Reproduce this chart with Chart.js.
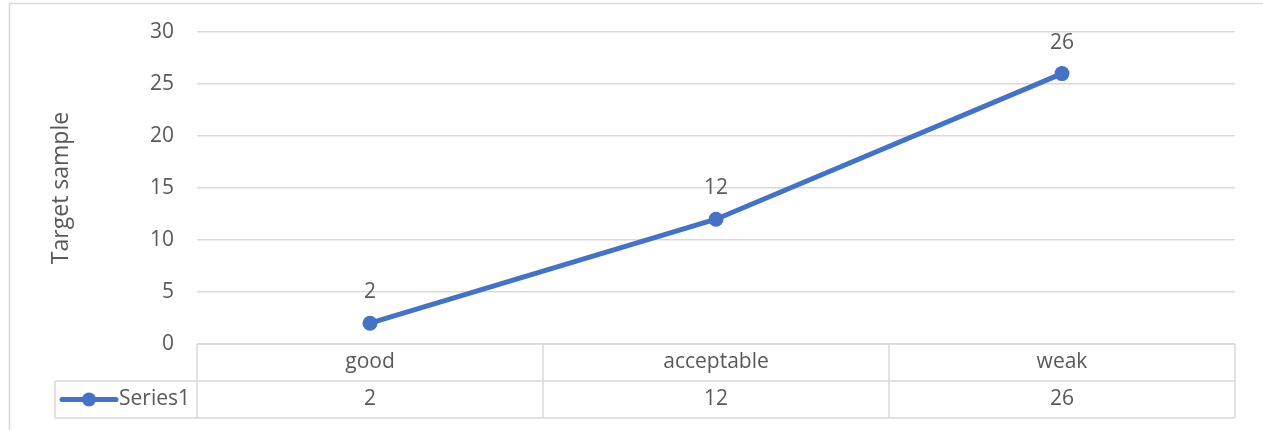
<!DOCTYPE html>
<html>
<head>
<meta charset="utf-8">
<script src="https://cdn.jsdelivr.net/npm/chart.js@4.4.0/dist/chart.umd.min.js"></script>
<style>
  html,body{margin:0;padding:0;background:#fff;}
  #wrap{width:1263px;height:430px;position:relative;}
</style>
</head>
<body>
<div id="wrap"><canvas id="chart" width="1263" height="430"></canvas></div>
<script>
// data
const categories = ['good', 'acceptable', 'weak'];
const seriesName = 'Series1';
const seriesValues = [2, 12, 26];
const yMin = 0;
const yMax = 30;
const yStep = 5;
const yTitle = 'Target sample';

const FONT = '"Open Sans", "Liberation Sans", sans-serif';
const FONT_SIZE = 21;
const TEXT = '#595959';
const GRID = '#d9d9d9';
const BLUE = '#4472C4';

// chart border (the Excel chart-area frame, cropped at right/bottom)
const frame = {
  id: 'frame',
  beforeDraw(chart){
    const ctx = chart.ctx;
    ctx.save();
    ctx.strokeStyle = GRID;
    ctx.lineWidth = 1.5;
    ctx.strokeRect(9.5, 3.5, 1400, 600);
    ctx.restore();
  }
};

// value labels above each point
const pointLabels = {
  id: 'pointLabels',
  afterDatasetsDraw(chart){
    const ctx = chart.ctx;
    const meta = chart.getDatasetMeta(0);
    ctx.save();
    ctx.font = FONT_SIZE + 'px ' + FONT;
    ctx.fillStyle = TEXT;
    ctx.textAlign = 'center';
    ctx.textBaseline = 'middle';
    meta.data.forEach((pt, i)=>{
      ctx.fillText(String(seriesValues[i]), pt.x, pt.y - 31);
    });
    ctx.restore();
  }
};

// data table under the plot (categories row + series row with legend key)
const dataTable = {
  id: 'dataTable',
  afterDraw(chart){
    const ctx = chart.ctx;
    const ca = chart.chartArea;
    const xs = chart.scales.x;
    const rowH = 37;
    const y0 = ca.bottom, y1 = y0 + rowH, y2 = y1 + rowH;
    const keyLeft = 55;
    const n = categories.length;
    const step = (ca.right - ca.left) / n;

    ctx.save();
    ctx.strokeStyle = GRID;
    ctx.lineWidth = 1.5;
    ctx.beginPath();
    // horizontal lines
    ctx.moveTo(ca.left, y0); ctx.lineTo(ca.right, y0);
    ctx.moveTo(keyLeft, y1); ctx.lineTo(ca.right, y1);
    ctx.moveTo(keyLeft, y2); ctx.lineTo(ca.right, y2);
    // vertical lines
    ctx.moveTo(keyLeft, y1); ctx.lineTo(keyLeft, y2);
    for(let i=0;i<=n;i++){
      const x = ca.left + i*step;
      ctx.moveTo(x, y0); ctx.lineTo(x, y2);
    }
    ctx.stroke();

    ctx.font = FONT_SIZE + 'px ' + FONT;
    ctx.fillStyle = TEXT;
    ctx.textAlign = 'center';
    ctx.textBaseline = 'middle';
    categories.forEach((c, i)=>{
      const x = xs.getPixelForTick(i);
      ctx.fillText(c, x, y0 + rowH/2);
      ctx.fillText(String(seriesValues[i]), x, y1 + rowH/2);
    });

    // legend key
    const ky = y1 + rowH/2;
    ctx.strokeStyle = BLUE;
    ctx.lineWidth = 5;
    ctx.lineCap = 'round';
    ctx.beginPath();
    ctx.moveTo(62, ky); ctx.lineTo(116, ky);
    ctx.stroke();
    ctx.fillStyle = BLUE;
    ctx.beginPath();
    ctx.arc(89, ky, 7, 0, Math.PI*2);
    ctx.fill();
    ctx.fillStyle = TEXT;
    ctx.textAlign = 'left';
    ctx.fillText(seriesName, 119, ky);
    ctx.restore();
  }
};

const ctx = document.getElementById('chart').getContext('2d');
const chart = new Chart(ctx, {
  type: 'line',
  data: {
    labels: categories,
    datasets: [{
      label: seriesName,
      data: seriesValues,
      borderColor: BLUE,
      backgroundColor: BLUE,
      borderWidth: 5,
      pointRadius: 7.5,
      pointHoverRadius: 7.5,
      pointBorderWidth: 0,
      pointBackgroundColor: BLUE,
      tension: 0,
      clip: false
    }]
  },
  options: {
    responsive: false,
    animation: false,
    events: [],
    layout: { padding: { left: 0, right: 28, top: 32, bottom: 86 } },
    plugins: { legend: { display: false }, tooltip: { enabled: false } },
    scales: {
      x: {
        display: false,
        offset: true
      },
      y: {
        min: yMin,
        max: yMax,
        ticks: {
          stepSize: yStep,
          color: TEXT,
          font: { family: FONT, size: FONT_SIZE },
          padding: 23
        },
        grid: { color: GRID, lineWidth: 1.5, drawTicks: false },
        border: { display: false },
        title: {
          display: true,
          text: yTitle,
          color: TEXT,
          font: { family: FONT, size: 23 },
          padding: { top: 48, bottom: 0 }
        },
        afterFit(scale){
          scale.width = 197;
          // let the layout padding alone decide the plot's top and bottom
          scale.paddingTop = 0;
          scale.paddingBottom = 0;
        }
      }
    }
  },
  plugins: [frame, pointLabels, dataTable]
});
</script>
</body>
</html>
